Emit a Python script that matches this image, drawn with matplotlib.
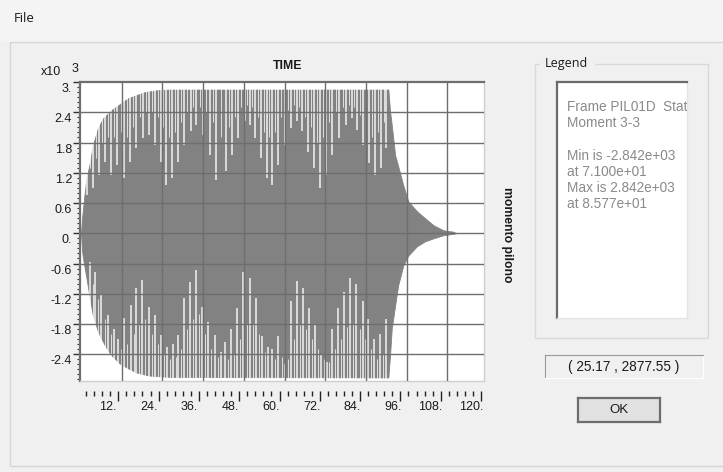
import matplotlib
matplotlib.use('Agg')
import matplotlib.pyplot as plt
from matplotlib.patches import Rectangle
from matplotlib.transforms import offset_copy, blended_transform_factory
import numpy as np

plt.rcParams['font.family'] = ['Liberation Sans', 'DejaVu Sans']

# envelope of the time history (time, value in x10^3)
env_t_up = [0, 0.3, 1.0, 1.6, 2.6, 3.5, 5.0, 6.5, 8.9, 11.4, 13.9, 16.3, 18.8, 22.7, 26.0,
            90.6, 91.1, 91.6, 92.6, 93.5, 95.0, 96.5, 99.0, 101.4, 103.9, 106.8, 109.8, 110.6]
env_up = [0, 0.30, 0.75, 1.09, 1.39, 1.75, 2.09, 2.28, 2.44, 2.56, 2.68, 2.74, 2.80, 2.84, 2.85,
          2.85, 2.42, 2.15, 1.55, 1.33, 0.95, 0.63, 0.44, 0.30, 0.16, 0.06, 0.03, 0]
env_t_lo = [0, 0.3, 0.6, 1.6, 2.6, 3.5, 5.0, 7.0, 8.9, 11.4, 13.9, 16.3, 19.8, 23.7, 27.0,
            90.6, 91.1, 91.6, 92.6, 93.5, 95.0, 96.5, 99.0, 101.4, 103.9, 106.8, 109.8, 110.6]
env_lo = [0, -0.35, -0.50, -0.89, -1.29, -1.63, -1.95, -2.22, -2.42, -2.58, -2.68, -2.76, -2.82, -2.84, -2.85,
          -2.86, -2.42, -1.89, -1.43, -1.03, -0.64, -0.44, -0.26, -0.16, -0.10, -0.04, -0.01, 0]

# long white gaps between the oscillation peaks (time, depth reached)
gap_t_top = [1.9, 3.5, 5.2, 7.0, 8.9, 10.7, 12.7, 14.4, 16.3, 18.3, 20.0, 21.9, 23.5, 25.2, 26.9,
             28.6, 30.4, 32.3, 34.0, 36.0, 37.9, 39.8, 42.7, 44.4, 46.4, 48.2, 49.8, 51.3, 53.0,
             54.7, 56.4, 58.2, 60.1, 61.9, 63.6, 65.2, 67.0, 68.7, 70.5, 72.2, 74.1, 76.1, 78.1,
             79.8, 81.5, 83.2, 85.0, 86.7, 88.4, 90.0]
gap_v_top = [0.76, 0.89, 1.16, 1.42, 1.16, 1.36, 1.09, 1.42, 1.69, 1.89, 1.95, 1.75, 1.42, 0.96, 1.09,
             1.42, 1.75, 2.02, 2.15, 1.95, 1.56, 1.05, 1.23, 1.56, 1.89, 2.22, 2.15, 1.89, 1.49,
             1.09, 0.96, 1.36, 1.75, 2.09, 2.22, 2.02, 1.62, 1.29, 0.89, 1.16, 1.56, 1.89, 2.15,
             2.28, 2.05, 1.75, 1.40, 1.15, 1.30, 1.70]
gap_t_bot = [2.6, 4.2, 6.0, 8.0, 9.7, 10.9, 12.7, 14.6, 16.3, 18.1, 20.0, 21.9, 23.7, 25.4, 27.1,
             28.6, 30.4, 32.0, 33.8, 35.7, 37.4, 39.4, 41.3, 42.5, 44.2, 46.1, 47.9, 49.8, 51.6,
             53.3, 55.0, 56.4, 58.2, 60.1, 61.9, 63.6, 65.5, 67.3, 69.0, 70.8, 72.4, 73.9, 75.7,
             77.6, 79.3, 81.2, 83.0, 84.7, 86.4, 88.2, 89.9]
gap_v_bot = [-0.56, -0.76, -1.23, -1.62, -1.89, -2.09, -1.69, -1.42, -1.09, -0.93, -1.46, -1.62, -2.02, -2.25, -2.19,
             -2.02, -1.29, -0.96, -0.73, -1.46, -1.75, -2.02, -2.35, -2.15, -1.89, -1.49, -0.76, -0.89, -1.29,
             -2.03, -2.26, -2.30, -2.03, -2.60, -1.35, -0.95, -1.09, -1.49, -1.82, -2.42, -2.55, -1.89, -1.49,
             -1.16, -0.89, -1.00, -1.35, -1.70, -2.10, -2.00, -1.70]

# short gaps that notch the envelope edge
short_t_top = [2.7, 4.3, 6.1, 8.0, 9.8, 11.7, 13.5, 15.3, 17.3, 19.1, 21.0, 22.7, 24.3, 26.0, 27.7,
               29.5, 31.3, 33.1, 35.0, 36.9, 38.8, 41.3, 43.5, 45.4, 47.3, 49.0, 50.5, 52.1, 53.8,
               55.5, 57.3, 59.1, 61.0, 62.7, 64.4, 66.1, 67.8, 69.6, 71.3, 73.1, 75.1, 77.1, 78.9,
               80.6, 82.3, 84.1, 85.8, 87.5, 89.2]
short_v_top = [1.3, 1.5, 1.8, 1.9, 1.9, 2.0, 1.9, 2.1, 2.3, 2.4, 2.4, 2.3, 2.1, 1.9, 2.0,
               2.2, 2.4, 2.5, 2.5, 2.4, 2.2, 1.9, 2.1, 2.3, 2.5, 2.55, 2.5, 2.3, 2.0,
               1.9, 2.0, 2.3, 2.45, 2.55, 2.5, 2.3, 2.1, 1.8, 1.9, 2.2, 2.4, 2.5, 2.55,
               2.5, 2.35, 2.1, 1.9, 2.0, 2.2]
short_t_bot = [3.4, 5.1, 7.0, 8.9, 11.8, 13.6, 15.5, 17.2, 19.0, 20.9, 22.8, 24.5, 26.2, 27.9, 29.5,
               31.2, 32.9, 34.7, 36.5, 38.4, 40.4, 43.3, 45.1, 47.0, 48.9, 50.7, 52.4, 54.2, 57.3,
               59.2, 61.0, 62.7, 64.5, 66.4, 68.1, 69.9, 71.6, 73.1, 74.8, 76.6, 78.4, 80.2, 82.1,
               83.8, 85.5, 87.3, 89.0]
short_v_bot = [-1.0, -1.3, -1.7, -2.0, -2.3, -2.2, -2.0, -1.8, -1.7, -2.0, -2.2, -2.4, -2.5, -2.45, -2.3,
               -1.9, -1.7, -1.6, -2.0, -2.3, -2.45, -2.5, -2.4, -2.1, -1.8, -1.8, -2.0, -2.35, -2.5,
               -2.45, -2.5, -2.1, -1.8, -1.9, -2.1, -2.3, -2.5, -2.55, -2.3, -2.1, -1.85, -1.8, -1.9,
               -2.1, -2.3, -2.5, -2.4]

y_ticks = [-2.4, -1.8, -1.2, -0.6, 0.0, 0.6, 1.2, 1.8, 2.4, 3.0]
y_labels = ['-2.4', '-1.8', '-1.2', '-0.6', '0.', '0.6', '1.2', '1.8', '2.4', '3.']
x_ticks = [12, 24, 36, 48, 60, 72, 84, 96, 108, 120]
x_labels = ['12.', '24.', '36.', '48.', '60.', '72.', '84.', '96.', '108.', '120.']

legend_lines = ['Frame PIL01D  Stat', 'Moment 3-3', '', 'Min is -2.842e+03', 'at 7.100e+01',
                'Max is 2.842e+03', 'at 8.577e+01']
coord_text = '( 25.17 , 2877.55 )'

W, H = 723, 472


def box(x0, y0, x1, y1):
    # pixel box (top-left origin) -> figure fraction rect
    return [x0 / W, 1 - y1 / H, (x1 - x0) / W, (y1 - y0) / H]


fig = plt.figure(figsize=(W / 100, H / 100), dpi=100, facecolor='#f0f0f0')

# window chrome
fig.patches.append(Rectangle((0, 1 - 42 / H), 1, 42 / H, transform=fig.transFigure,
                             facecolor='#f4f4f4', edgecolor='none', zorder=-2))
fig.patches.append(Rectangle((10 / W, 1 - 466 / H), 1, (466 - 42) / H, transform=fig.transFigure,
                             facecolor='#f0f0f0', edgecolor='#d6d6d6', linewidth=1, zorder=-2))
fig.text(14 / W, 1 - 18 / H, 'File', fontsize=9.5, va='center', ha='left', color='#1a1a1a',
         family=['Open Sans', 'DejaVu Sans'])

# main plot
ax = fig.add_axes(box(80, 82, 484, 381))
ax.set_facecolor('white')
xlim = (-0.3, 118.8)
ylim = (-2.93, 3.0)
ax.set_xlim(*xlim)
ax.set_ylim(*ylim)

t_up = np.array(env_t_up)
t_lo = np.array(env_t_lo)
tt = np.union1d(t_up, t_lo)
ax.fill_between(tt, np.interp(tt, t_lo, env_lo), np.interp(tt, t_up, env_up),
                color='#828282', linewidth=0.6, edgecolor='#828282', zorder=1)
ax.vlines(gap_t_top, gap_v_top, ylim[1], color='white', linewidth=1.1, alpha=0.9, zorder=2)
ax.vlines(gap_t_bot, ylim[0], gap_v_bot, color='white', linewidth=1.1, alpha=0.9, zorder=2)
ax.vlines(short_t_top, short_v_top, ylim[1], color='white', linewidth=0.7, alpha=0.75, zorder=2)
ax.vlines(short_t_bot, ylim[0], short_v_bot, color='white', linewidth=0.7, alpha=0.75, zorder=2)

for v in y_ticks[:-1]:
    ax.axhline(v, color='#6e6e6e', linewidth=1.0, zorder=3)
for v in x_ticks[:-1]:
    ax.axvline(v, color='#6e6e6e', linewidth=1.0, zorder=3)

for side in ['top', 'left']:
    ax.spines[side].set_color('#6e6e6e')
    ax.spines[side].set_linewidth(1.6)
for side in ['right', 'bottom']:
    ax.spines[side].set_color('#cfcfcf')
    ax.spines[side].set_linewidth(1.0)

ax.set_xticks([])
ax.set_yticks(y_ticks)
ax.set_yticks(np.arange(-2.9, 3.01, 0.1), minor=True)
ax.tick_params(axis='y', which='major', length=5, width=1, color='#333333', labelleft=False)
ax.tick_params(axis='y', which='minor', length=2.5, width=0.8, color='#333333')

ylab_tr = offset_copy(blended_transform_factory(ax.transAxes, ax.transData), fig=fig,
                      x=-8, y=-7, units='dots')
for v, lab in zip(y_ticks, y_labels):
    ax.text(0, v, lab, transform=ylab_tr, ha='right', va='center', fontsize=9, color='#1a1a1a')

ax.text(0, 1, 'x10', transform=offset_copy(ax.transAxes, fig=fig, x=-29, y=10, units='dots'),
        ha='center', va='center', fontsize=9, color='#1a1a1a')
ax.text(0, 1, '3', transform=offset_copy(ax.transAxes, fig=fig, x=-5, y=13, units='dots'),
        ha='center', va='center', fontsize=9, color='#1a1a1a')
ax.text(0.515, 1, 'TIME', transform=offset_copy(ax.transAxes, fig=fig, x=0, y=16, units='dots'),
        ha='center', va='center', fontsize=8.8, fontweight='bold', color='#1a1a1a')
ax.text(1, 0.49, 'momento pilono', transform=offset_copy(ax.transAxes, fig=fig, x=23, y=0, units='dots'),
        rotation=-90, ha='center', va='center', fontsize=8.8, fontweight='bold', color='#1a1a1a')

# detached tick row below the plot
tick_ax = fig.add_axes(box(77, 390, 481, 391))
tick_ax.set_xlim(*xlim)
tick_ax.patch.set_visible(False)
for s in tick_ax.spines.values():
    s.set_visible(False)
tick_ax.set_yticks([])
tick_ax.set_xticks(x_ticks)
tick_ax.set_xticks(np.arange(2.4, 120, 2.4), minor=True)
tick_ax.tick_params(axis='x', which='major', direction='out', length=7, width=1.0,
                    color='#222222', labelbottom=False)
tick_ax.tick_params(axis='x', which='minor', direction='out', length=3.5, width=1.0, color='#222222')

xlab_tr = offset_copy(blended_transform_factory(ax.transData, fig.transFigure), fig=fig,
                      x=-5, y=0, units='dots')
for v, lab in zip(x_ticks, x_labels):
    ax.text(v, 1 - 407 / H, lab, transform=xlab_tr, ha='right', va='center', fontsize=9,
            color='#1a1a1a')

# legend group box
fig.patches.append(Rectangle((535 / W, 1 - 338 / H), 173 / W, (338 - 64) / H, transform=fig.transFigure,
                             facecolor='none', edgecolor='#d9d9d9', linewidth=1.0, zorder=-1))
fig.text(545 / W, 1 - 64 / H, 'Legend', fontsize=9, va='center', ha='left', color='#1a1a1a',
         backgroundcolor='#f0f0f0', family=['Open Sans', 'DejaVu Sans'])

leg_ax = fig.add_axes(box(557, 82, 687, 318))
leg_ax.set_xticks([])
leg_ax.set_yticks([])
leg_ax.set_xlim(0, 130)
leg_ax.set_ylim(236, 0)
for side in ['top', 'left']:
    leg_ax.spines[side].set_color('#6a6a6a')
    leg_ax.spines[side].set_linewidth(1.6)
for side in ['right', 'bottom']:
    leg_ax.spines[side].set_color('#e4e4e4')
    leg_ax.spines[side].set_linewidth(1.0)
for i, line in enumerate(legend_lines):
    leg_ax.text(10, 25 + 16.2 * i, line, fontsize=9.8, color='#8a8a8a', ha='left', va='center',
                clip_on=True)

# cursor coordinate box
coord_ax = fig.add_axes(box(545, 355, 703, 378))
coord_ax.set_xticks([])
coord_ax.set_yticks([])
coord_ax.set_facecolor('#f0f0f0')
for side in ['top', 'left']:
    coord_ax.spines[side].set_color('#9a9a9a')
for side in ['right', 'bottom']:
    coord_ax.spines[side].set_color('#ffffff')
coord_ax.text(0.5, 0.5, coord_text, ha='center', va='center', fontsize=9.8, color='#1a1a1a',
              transform=coord_ax.transAxes)

# OK button
ok_ax = fig.add_axes(box(578, 398, 660, 422))
ok_ax.set_xticks([])
ok_ax.set_yticks([])
ok_ax.set_facecolor('#e1e1e1')
for s in ok_ax.spines.values():
    s.set_color('#6d6d6d')
    s.set_linewidth(1.6)
ok_ax.text(0.5, 0.5, 'OK', ha='center', va='center', fontsize=9.5, color='#1a1a1a',
           transform=ok_ax.transAxes)

fig.savefig('out.png', dpi=100, facecolor=fig.get_facecolor())
